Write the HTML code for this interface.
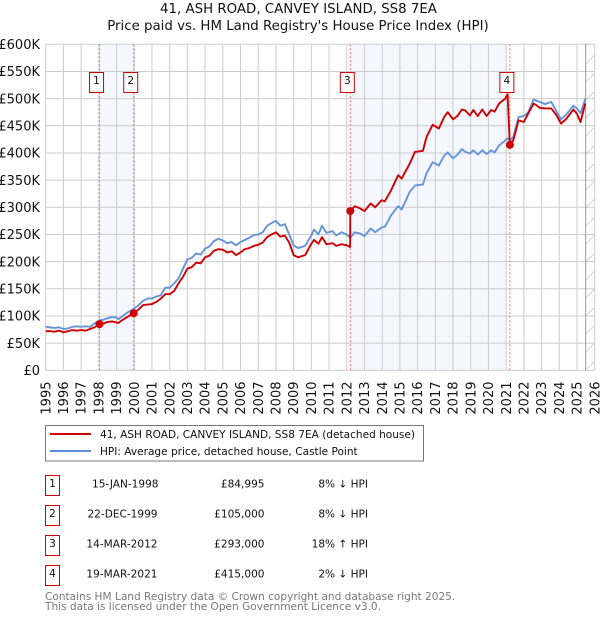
<!DOCTYPE html>
<html lang="en">
<head>
<meta charset="utf-8">
<title>41, ASH ROAD, CANVEY ISLAND, SS8 7EA</title>
<style>
html,body{margin:0;padding:0;background:#fff;}
body{width:600px;height:620px;overflow:hidden;}
svg{display:block;font-family:"DejaVu Sans","Liberation Sans",sans-serif;}
text{fill:#111;}
</style>
</head>
<body>
<svg id="chart" width="600" height="620" viewBox="0 0 600 620" xmlns="http://www.w3.org/2000/svg">
  <defs>
    <pattern id="hatch" width="18" height="18" patternUnits="userSpaceOnUse" patternTransform="translate(0.7 1)">
      <path d="M-1 19 L19 -1" stroke="#ccc" stroke-width="0.9"/>
    </pattern>
  </defs>
  <text x="298.5" y="13" text-anchor="middle" font-size="13.35">41, ASH ROAD, CANVEY ISLAND, SS8 7EA</text>
  <text x="298" y="30" text-anchor="middle" font-size="13.35">Price paid vs. HM Land Registry's House Price Index (HPI)</text>
  <g id="plot"></g>

  <g>
    <rect x="45.5" y="425.5" width="378" height="35.5" fill="#fff" stroke="#777" stroke-width="1"/>
    <line x1="50" x2="91" y1="434" y2="434" stroke="#cc0000" stroke-width="2"/>
    <text x="100" y="438" font-size="10.55">41, ASH ROAD, CANVEY ISLAND, SS8 7EA (detached house)</text>
    <line x1="50" x2="91" y1="451" y2="451" stroke="#5b8fd9" stroke-width="2"/>
    <text x="100" y="455" font-size="10.55">HPI: Average price, detached house, Castle Point</text>
  </g>

  <g font-size="10.55">
    <g>
      <rect x="45.5" y="475.5" width="14" height="20" fill="#fff" stroke="#cc0000"/>
      <text x="52.5" y="487" text-anchor="middle">1</text>
      <text x="158.5" y="487.5" text-anchor="end">15-JAN-1998</text>
      <text x="264.5" y="487.5" text-anchor="end">£84,995</text>
      <text x="368" y="487.5" text-anchor="end">8% ↓ HPI</text>
    </g>
    <g>
      <rect x="45.5" y="505.5" width="14" height="20" fill="#fff" stroke="#cc0000"/>
      <text x="52.5" y="517" text-anchor="middle">2</text>
      <text x="157.5" y="517.5" text-anchor="end">22-DEC-1999</text>
      <text x="264.5" y="517.5" text-anchor="end">£105,000</text>
      <text x="368" y="517.5" text-anchor="end">8% ↓ HPI</text>
    </g>
    <g>
      <rect x="45.5" y="535.5" width="14" height="20" fill="#fff" stroke="#cc0000"/>
      <text x="52.5" y="547" text-anchor="middle">3</text>
      <text x="157.5" y="547.5" text-anchor="end">14-MAR-2012</text>
      <text x="264.5" y="547.5" text-anchor="end">£293,000</text>
      <text x="368" y="547.5" text-anchor="end">18% ↑ HPI</text>
    </g>
    <g>
      <rect x="45.5" y="565.5" width="14" height="20" fill="#fff" stroke="#cc0000"/>
      <text x="52.5" y="577" text-anchor="middle">4</text>
      <text x="157.5" y="577.5" text-anchor="end">19-MAR-2021</text>
      <text x="264.5" y="577.5" text-anchor="end">£415,000</text>
      <text x="368" y="577.5" text-anchor="end">2% ↓ HPI</text>
    </g>
  </g>

  <text x="45" y="600" font-size="10.55" style="fill:#777">Contains HM Land Registry data © Crown copyright and database right 2025.</text>
  <text x="45" y="610" font-size="10.55" style="fill:#777">This data is licensed under the Open Government Licence v3.0.</text>
</svg>
<script>
const yearTicks = [1995,1996,1997,1998,1999,2000,2001,2002,2003,2004,2005,2006,2007,2008,2009,2010,2011,2012,2013,2014,2015,2016,2017,2018,2019,2020,2021,2022,2023,2024,2025,2026];
const priceTicks = [0,50,100,150,200,250,300,350,400,450,500,550,600];
const dates = [
  1995,1995.25,1995.5,1995.75,1996,1996.25,1996.5,1996.75,1997,1997.25,1997.5,1997.75,
  1998.04,1998.25,1998.5,1998.75,1999,1999.1,1999.35,1999.6,1999.97,
  2000.25,2000.5,2000.75,2001,2001.25,2001.5,2001.75,2002,2002.25,2002.5,2002.75,
  2003,2003.25,2003.5,2003.75,2004,2004.25,2004.5,2004.75,2005,2005.25,2005.5,2005.75,
  2006,2006.25,2006.5,2006.75,2007,2007.25,2007.5,2007.75,2008,2008.25,2008.5,2008.75,
  2009,2009.25,2009.65,2010,2010.15,2010.4,2010.6,2010.85,2011.2,2011.4,2011.7,2012,2012.19,
  2012.2,2012.45,2012.75,2013,2013.35,2013.6,2013.97,2014.15,2014.5,2014.9,2015.1,2015.55,2015.85,
  2016.3,2016.5,2016.85,2017.2,2017.5,2017.7,2018,2018.25,2018.5,2018.7,2018.95,2019.15,2019.4,2019.65,2019.9,
  2020.15,2020.35,2020.6,2020.95,2021.08,2021.21,2021.4,2021.7,2022,2022.25,2022.55,2022.7,2022.9,
  2023.2,2023.55,2023.85,2024.1,2024.4,2024.8,2025,2025.2,2025.47
];
const paidValues = [
  72,72,71,73,70,72,74,73,74,73,76,79,
  85,86,89,90,88,87,93,98,105,
  112,120,121,122,126,132,140,140,146,160,172,
  187,190,198,197,208,211,220,223,222,217,219,212,
  217,223,225,229,231,235,245,250,254,246,248,235,
  212,208,212,233,240,233,245,232,234,229,232,230,227,
  293,302,298,293,307,300,313,311,331,359,353,380,402,
  404,429,452,445,466,475,462,468,480,478,469,479,468,480,468,
  479,476,491,500,508,415,423,460,457,473,491,488,483,
  482,482,469,454,463,480,472,457,491
];
const hpiValues = [
  80,79,78,79,76,77,80,81,80,81,80,86,
  92,93,96,98,97,94,100,106,113,
  120,128,132,132,136,138,152,152,160,169,187,
  204,207,215,213,224,228,238,242,239,234,236,230,
  236,240,244,249,250,254,266,271,275,266,269,250,
  230,225,229,248,259,250,266,253,256,248,254,250,244,
  244,254,252,247,261,254,263,264,285,302,296,328,340,
  342,362,383,377,395,401,390,397,407,402,399,405,397,405,398,
  405,401,414,423,427,423,429,466,468,475,499,496,494,
  490,494,476,462,471,487,482,473,500
];
const saleDates = [1998.04,1999.97,2012.2,2021.21];
const salePrices = [84.995,105,293,415];
const saleLabels = ['1','2','3','4'];
const bandStarts = [1998.04,2012.2];
const bandEnds = [1999.97,2021.06];
const dataEnd = 2025.49;

const NS = 'http://www.w3.org/2000/svg';
const plot = document.getElementById('plot');
const X0 = 45.7, XW = 549, Y0 = 370.3, YH = 326;
function xScale(year){ return X0 + (year - yearTicks[0]) / (yearTicks[yearTicks.length-1] - yearTicks[0]) * XW; }
function yScale(k){ return Y0 - (k - priceTicks[0]) / (priceTicks[priceTicks.length-1] - priceTicks[0]) * YH; }
function add(tag, attrs, text){
  const el = document.createElementNS(NS, tag);
  for (const k in attrs) el.setAttribute(k, attrs[k]);
  if (text !== undefined) el.textContent = text;
  plot.appendChild(el);
  return el;
}
function priceLabel(k){ return '£' + k + (k === 0 ? '' : 'K'); }

bandStarts.forEach(function(s, i){
  const band = add('rect', {x:xScale(s), y:yScale(600), width:xScale(bandEnds[i])-xScale(s), height:YH, fill:'#f4f7fe'});
  
  
});
const hatch = add('rect', {x:xScale(dataEnd), y:yScale(600), width:xScale(2026)-xScale(dataEnd), height:YH, fill:'url(#hatch)'});



yearTicks.forEach(function(y){
  const g = add('line', {x1:xScale(y), x2:xScale(y), y1:yScale(600), y2:yScale(0), stroke:'#ccc', 'stroke-width':1});
  
  
  const px = xScale(y);
  const t = add('text', {x:0, y:0, 'font-size':13, 'text-anchor':'end', transform:'translate(' + (px+4.6) + ' 381.5) rotate(-90)'}, String(y));
  
  
});
priceTicks.forEach(function(k){
  const g = add('line', {x1:X0, x2:xScale(2026), y1:yScale(k), y2:yScale(k), stroke:'#ccc', 'stroke-width':1});
  
  
  const t = add('text', {x:40, y:yScale(k)+4.7, 'font-size':13, 'text-anchor':'end'}, priceLabel(k));
  
  
});

const endLine = add('line', {x1:xScale(dataEnd), x2:xScale(dataEnd), y1:yScale(600), y2:yScale(0), stroke:'#999', 'stroke-width':1});



saleDates.forEach(function(d){
  const l = add('line', {x1:xScale(d), x2:xScale(d), y1:yScale(600), y2:yScale(0), stroke:'#ff6a6a', 'stroke-width':1, 'stroke-dasharray':'2 2'});
  
  
});

function linePoints(values){
  return dates.map(function(d, i){ return xScale(d).toFixed(2) + ',' + yScale(values[i]).toFixed(2); }).join(' ');
}
const hpiLine = add('polyline', {points:linePoints(hpiValues), fill:'none', stroke:'#6594d8', 'stroke-width':1.9, 'stroke-linejoin':'round'});


const paidLine = add('polyline', {points:linePoints(paidValues), fill:'none', stroke:'#cc0000', 'stroke-width':1.9, 'stroke-linejoin':'round'});



saleDates.forEach(function(d, i){
  const c = add('circle', {cx:xScale(d), cy:yScale(salePrices[i]), r:4, fill:'#cc0000'});
  
  
  const bx = xScale(d) - 10;
  const b = add('rect', {x:bx, y:72.5, width:14, height:20, fill:'#fff', stroke:'#cc0000', 'stroke-width':1});
  
  
  const t = add('text', {x:bx+7, y:84, 'font-size':10.55, 'text-anchor':'middle'}, saleLabels[i]);
  
  
});
</script>
</body>
</html>
